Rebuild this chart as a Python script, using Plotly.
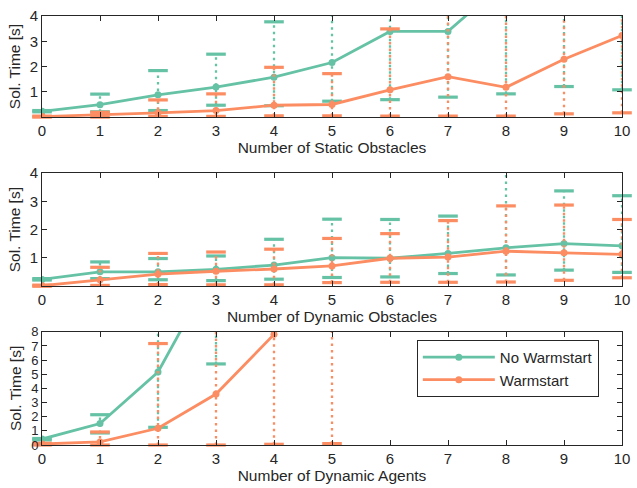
import plotly.graph_objects as go

# ---------------- data ----------------
x_vals = [0, 1, 2, 3, 4, 5, 6, 7, 8, 9, 10]

# Panel 1: Number of Static Obstacles
static_nw_mean = [0.23, 0.49, 0.88, 1.19, 1.58, 2.16, 3.39, 3.39, 5.4, 6.5, 7.5]
static_nw_lo = [0.21, 0.21, 0.26, 0.47, 0.45, 0.63, 0.69, 0.79, 0.92, 1.21, 1.08]
static_nw_hi = [0.26, 0.91, 1.84, 2.49, 3.77, 5.0, 5.5, 6.0, 7.0, 8.0, 9.0]
static_ws_mean = [0.02, 0.08, 0.17, 0.26, 0.47, 0.50, 1.08, 1.60, 1.18, 2.29, 3.23]
static_ws_lo = [0.0, 0.0, 0.03, 0.03, 0.05, 0.05, 0.04, 0.04, 0.04, 0.13, 0.17]
static_ws_hi = [0.04, 0.19, 0.68, 0.92, 1.97, 1.72, 3.49, 4.5, 5.0, 5.5, 6.0]

# Panel 2: Number of Dynamic Obstacles
dynobs_nw_mean = [0.24, 0.51, 0.51, 0.60, 0.75, 1.01, 0.99, 1.16, 1.36, 1.51, 1.43]
dynobs_nw_lo = [0.22, 0.27, 0.23, 0.20, 0.25, 0.31, 0.33, 0.45, 0.40, 0.57, 0.49]
dynobs_nw_hi = [0.27, 0.86, 0.98, 1.07, 1.66, 2.37, 2.36, 2.48, 4.5, 3.37, 3.20]
dynobs_ws_mean = [0.02, 0.23, 0.43, 0.53, 0.61, 0.72, 0.99, 1.03, 1.24, 1.18, 1.13]
dynobs_ws_lo = [0.0, 0.03, 0.06, 0.05, 0.05, 0.13, 0.14, 0.14, 0.15, 0.21, 0.30]
dynobs_ws_hi = [0.04, 0.67, 1.16, 1.21, 1.31, 1.69, 1.86, 2.32, 2.84, 2.87, 2.36]

# Panel 3: Number of Dynamic Agents
agents_nw_mean = [0.42, 1.52, 5.16, 12.6, None, None, None, None, None, None, None]
agents_nw_lo = [0.36, 0.85, 1.25, 5.73, None, None, None, None, None, None, None]
agents_nw_hi = [0.46, 2.14, 9.5, 15.0, None, None, None, None, None, None, None]
agents_ws_mean = [0.07, 0.22, 1.18, 3.60, 7.82, 14.0, None, None, None, None, None]
agents_ws_lo = [0.0, 0.0, 0.0, 0.0, 0.05, 0.1, None, None, None, None, None]
agents_ws_hi = [0.12, 0.92, 7.17, 10.0, 12.0, 16.0, None, None, None, None, None]

series_names = ["No Warmstart", "Warmstart"]
x_titles = ["Number of Static Obstacles", "Number of Dynamic Obstacles", "Number of Dynamic Agents"]
y_title = "Sol. Time [s]"
y_ranges = [[0, 4], [0, 4], [0, 8]]
y_ticks = [[1, 2, 3, 4], [1, 2, 3, 4], [0, 1, 2, 3, 4, 5, 6, 7, 8]]
x_ticks = [0, 1, 2, 3, 4, 5, 6, 7, 8, 9, 10]

panels = [
    [(static_nw_mean, static_nw_lo, static_nw_hi), (static_ws_mean, static_ws_lo, static_ws_hi)],
    [(dynobs_nw_mean, dynobs_nw_lo, dynobs_nw_hi), (dynobs_ws_mean, dynobs_ws_lo, dynobs_ws_hi)],
    [(agents_nw_mean, agents_nw_lo, agents_nw_hi), (agents_ws_mean, agents_ws_lo, agents_ws_hi)],
]

# ---------------- style ----------------
colors = ["#66c2a5", "#fc8d62"]
font_family = "Liberation Sans, Arial, sans-serif"
text_color = "#262626"
W, H = 637, 488
m_l, m_r, m_t, m_b = 42, 7, 9, 42
plot_h = H - m_t - m_b
# panel pixel extents (top, bottom) in page coordinates
panel_px = [(9, 112), (169, 284.3), (330.7, 446)]
domains = [[(H - m_b - b) / plot_h, (H - m_b - t) / plot_h] for t, b in panel_px]
ytick_sizes = [15, 15, 13]

fig = go.Figure()

for p, (series, yr) in enumerate(zip(panels, y_ranges)):
    xa = "x" if p == 0 else f"x{p + 1}"
    ya = "y" if p == 0 else f"y{p + 1}"
    for s, (mean, lo, hi) in enumerate(series):
        c = colors[s]
        # dotted vertical error segments
        ex, ey = [], []
        for xi, l, h in zip(x_vals, lo, hi):
            if l is None or h is None:
                continue
            ex += [xi, xi, None]
            ey += [l, h, None]
        fig.add_trace(go.Scatter(
            x=ex, y=ey, mode="lines", xaxis=xa, yaxis=ya,
            line=dict(color=c, width=2.3, dash="2.5px,4px"),
            showlegend=False, hoverinfo="skip"))
        # caps (only those inside the visible range)
        cx, cy = [], []
        for xi, l, h in zip(x_vals, lo, hi):
            for v in (l, h):
                if v is not None and yr[0] - 0.01 <= v <= yr[1]:
                    cx.append(xi)
                    cy.append(v)
        fig.add_trace(go.Scatter(
            x=cx, y=cy, mode="markers", xaxis=xa, yaxis=ya, cliponaxis=False,
            marker=dict(symbol="line-ew", size=14, line=dict(color=c, width=3.2)),
            showlegend=False, hoverinfo="skip"))
        # mean line
        fig.add_trace(go.Scatter(
            x=x_vals, y=mean, mode="lines+markers", xaxis=xa, yaxis=ya,
            line=dict(color=c, width=2.8), connectgaps=False,
            marker=dict(symbol="circle", size=7, color=c),
            name=series_names[s], legendgroup=series_names[s],
            showlegend=(p == 2)))

axis_common = dict(
    showline=True, linecolor=text_color, linewidth=1, mirror="ticks",
    ticks="inside", ticklen=5, tickwidth=1, tickcolor=text_color,
    showgrid=False, zeroline=False, ticklabeloverflow="allow",
)

layout = {}
for p in range(3):
    xk = "xaxis" if p == 0 else f"xaxis{p + 1}"
    yk = "yaxis" if p == 0 else f"yaxis{p + 1}"
    ya_ref = "y" if p == 0 else f"y{p + 1}"
    xa_ref = "x" if p == 0 else f"x{p + 1}"
    layout[xk] = dict(
        axis_common, range=[0, 10], tickvals=x_ticks, anchor=ya_ref, domain=[0, 1],
        tickfont=dict(family=font_family, size=15, color=text_color),
        title=dict(text=x_titles[p], standoff=3,
                   font=dict(family=font_family, size=15.5, color=text_color)),
    )
    layout[yk] = dict(
        axis_common, range=y_ranges[p], tickvals=y_ticks[p], anchor=xa_ref, domain=domains[p],
        tickfont=dict(family=font_family, size=ytick_sizes[p], color=text_color),
        title=dict(text=y_title, standoff=5,
                   font=dict(family=font_family, size=15.5, color=text_color)),
    )

fig.update_layout(
    width=W, height=H,
    margin=dict(l=m_l, r=m_r, t=m_t, b=m_b),
    paper_bgcolor="white", plot_bgcolor="white",
    font=dict(family=font_family, size=14, color=text_color),
    legend=dict(
        x=(422 - m_l) / (W - m_l - m_r), y=domains[2][1] - (339 - 330.7) / plot_h,
        xanchor="left", yanchor="top",
        bgcolor="white", bordercolor=text_color, borderwidth=1,
        font=dict(family=font_family, size=15, color=text_color),
        itemwidth=72, tracegroupgap=0,
    ),
    **layout,
)

fig.write_html("out.html")
